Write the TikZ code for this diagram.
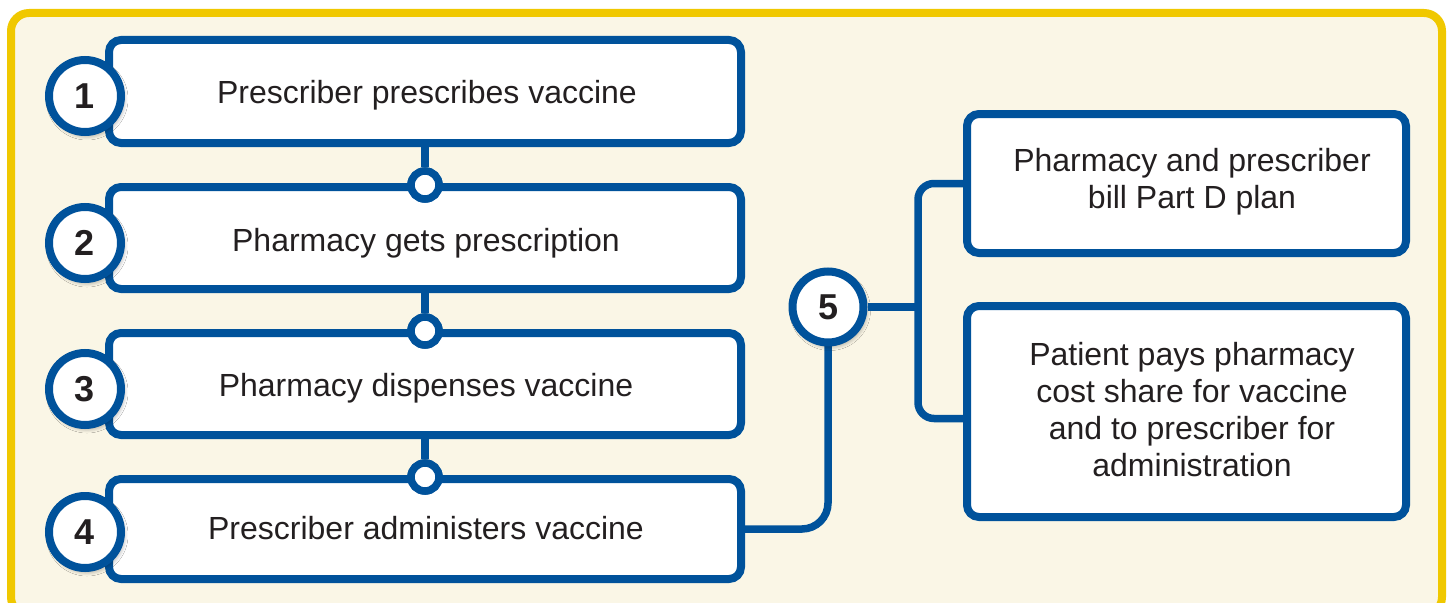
\documentclass[tikz,border=0pt]{standalone}
\usepackage{fontspec}
\setmainfont{Liberation Sans}
\usetikzlibrary{shadows.blur}
\definecolor{cblue}{RGB}{0,82,155}
\definecolor{cyellow}{RGB}{240,200,0}
\definecolor{ccream}{RGB}{250,246,230}
\definecolor{ctext}{RGB}{35,31,32}
\tikzset{
  stepbox/.style={draw=cblue, line width=8pt, fill=white, rounded corners=12pt, inner sep=0pt},
  numcircle/.style={circle, draw=cblue, line width=8pt, fill=white, minimum size=72pt, inner sep=0pt,
    text=ctext, font=\bfseries\fontsize{36}{40}\selectfont,
    blur shadow={shadow xshift=2pt, shadow yshift=-3pt, shadow blur steps=8, shadow opacity=45, shadow blur radius=5pt}},
  dot/.style={circle, draw=cblue, line width=7.5pt, fill=white, minimum size=28pt, inner sep=0pt},
  conn/.style={draw=cblue, line width=7.5pt},
  lbl/.style={text=ctext, font=\fontsize{32}{37}\selectfont, align=center, inner sep=0pt},
}
\begin{document}
\begin{tikzpicture}[x=1pt,y=-1pt]
\useasboundingbox (0,0) rectangle (1450,602);
\clip (0,0) rectangle (1450,602);
% frame
\draw[cyellow, line width=8pt, fill=ccream, rounded corners=18pt] (11,13) rectangle (1442,615);

% left step boxes
\node[stepbox, minimum width=632pt, minimum height=103pt] (b1) at (425,91.5) {};
\node[stepbox, minimum width=632pt, minimum height=102pt] (b2) at (425,238) {};
\node[stepbox, minimum width=632pt, minimum height=102pt] (b3) at (425,384) {};
\node[stepbox, minimum width=632pt, minimum height=100pt] (b4) at (425,529) {};

% right boxes
\node[stepbox, minimum width=439pt, minimum height=139pt] (bA) at (1186.5,183.5) {};
\node[stepbox, minimum width=439pt, minimum height=211pt] (bB) at (1186.5,411.5) {};

% connectors between left boxes
\node[dot] (k2) at (425,185) {};
\node[dot] (k3) at (425,331) {};
\node[dot] (k4) at (425,477) {};
\draw[conn] (b1.south -| k2) -- (k2.north);
\draw[conn] (b2.south -| k3) -- (k3.north);
\draw[conn] (b3.south -| k4) -- (k4.north);
\node[dot] at (k2) {};
\node[dot] at (k3) {};
\node[dot] at (k4) {};

% step 5 connectors
\coordinate (jn) at (918,307);
\draw[conn, rounded corners=16pt] (bA.west) -- (bA.west -| jn) |- ([yshift=-7pt]bB.west);
\draw[conn, rounded corners=26pt] (828,340) |- (b4.east);

% number circles
\node[numcircle] (c1) at (85,96) {1};
\node[numcircle] (c2) at (85,243) {2};
\node[numcircle] (c3) at (85,389) {3};
\node[numcircle] (c4) at (85,532) {4};
\node[numcircle, minimum size=71pt] (c5) at (828,307) {5};
\draw[conn] (c5.east) -- (jn);

% labels
\node[lbl, anchor=base] (t1) at (427,103.5) {Prescriber prescribes vaccine};
\node[lbl, anchor=base] (t2) at (426,251) {Pharmacy gets prescription};
\node[lbl, anchor=base] (t3) at (426,396) {Pharmacy dispenses vaccine};
\node[lbl, anchor=base] (t4) at (426,539) {Prescriber administers vaccine};
\node[lbl] (tA) at (1192,182) {Pharmacy and prescriber\\bill Part D plan};
\node[lbl] (tB) at (1192,410) {Patient pays pharmacy\\cost share for vaccine\\and to prescriber for\\administration};
\end{tikzpicture}
\end{document}
